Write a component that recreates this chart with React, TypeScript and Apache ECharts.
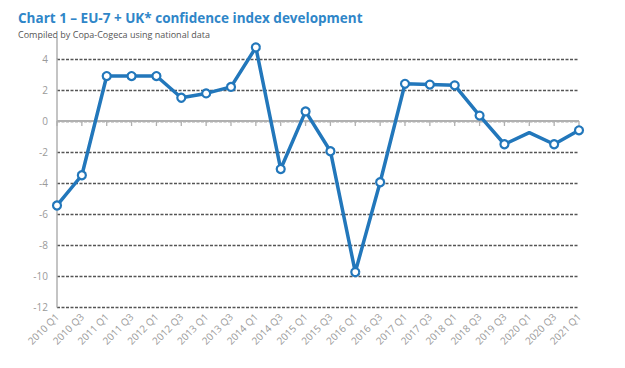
import React, { useEffect, useRef } from "react";
import * as echarts from "echarts";

const categories = ["2010 Q1","2010 Q3","2011 Q1","2011 Q3","2012 Q1","2012 Q3","2013 Q1","2013 Q3","2014 Q1","2014 Q3","2015 Q1","2015 Q3","2016 Q1","2016 Q3","2017 Q1","2017 Q3","2018 Q1","2018 Q3","2019 Q3","2020 Q1","2020 Q3","2021 Q1"];
const confidence = [-5.45,-3.5,2.9,2.9,2.9,1.5,1.78,2.2,4.75,-3.1,0.62,-1.95,-9.75,-3.95,2.4,2.35,2.3,0.35,-1.5,-0.75,-1.5,-0.6];
const noMarker = ["2020 Q1"];

const TITLE = "Chart 1 – EU-7 + UK* confidence index development";
const SUBTITLE = "Compiled by Copa-Cogeca using national data";

export default function App() {
  const ref = useRef<HTMLDivElement>(null);
  useEffect(() => {
    const chart = echarts.init(ref.current!, null, { renderer: "svg" });
    const font = "'Open Sans', sans-serif";
    const axisGray = "#b0b0b0";
    const lastIdx = categories.length - 1;
    chart.setOption({
      animation: false,
      backgroundColor: "#ffffff",
      textStyle: { fontFamily: font },
      title: {
        text: TITLE,
        subtext: SUBTITLE,
        left: 10,
        top: 2,
        padding: 0,
        itemGap: 2,
        textStyle: { color: "#2f86c8", fontSize: 13.5, fontWeight: "bold", fontFamily: font, lineHeight: 16 },
        subtextStyle: { color: "#555555", fontSize: 9, fontFamily: font, lineHeight: 12 },
      },
      grid: { left: 49, right: 38, top: 51, bottom: 53 },
      xAxis: {
        type: "category",
        data: categories,
        boundaryGap: false,
        axisLine: { show: false, onZero: false },
        axisTick: { show: false },
        axisLabel: { rotate: 45, color: "#9a9a9a", fontSize: 10, margin: 8, interval: 0 },
      },
      yAxis: {
        type: "value",
        min: -12,
        max: 4,
        interval: 2,
        axisLine: { show: true, lineStyle: { color: axisGray, width: 1.5 } },
        axisTick: { show: false },
        axisLabel: { color: "#9a9a9a", fontSize: 10, margin: 9 },
        splitLine: { show: true, lineStyle: { color: "#555555", type: [3, 1.5], width: 1.3 } },
      },
      graphic: [
        { type: "line", shape: { x1: 49, y1: 30, x2: 49, y2: 51 }, style: { stroke: axisGray, lineWidth: 1.5 } },
      ],
      series: [
        {
          type: "custom",
          silent: true,
          z: 3,
          data: categories.map((c) => [c, 0]),
          renderItem: (params: any, api: any) => {
            const i = api.value(0);
            const p = api.coord([i, 0]);
            const children: any[] = [
              { type: "line", shape: { x1: p[0], y1: p[1], x2: p[0], y2: p[1] + 5 }, style: { stroke: axisGray, lineWidth: 1.3 } },
            ];
            if (i === 0) {
              const q = api.coord([lastIdx, 0]);
              children.push({ type: "line", shape: { x1: p[0], y1: p[1], x2: q[0], y2: q[1] }, style: { stroke: axisGray, lineWidth: 1.8 } });
            }
            return { type: "group", children };
          },
        },
        {
          type: "line",
          data: confidence.map((v, i) =>
            noMarker.includes(categories[i]) ? { value: v, symbol: "none" } : v
          ),
          symbol: "circle",
          symbolSize: 8,
          showAllSymbol: true,
          clip: false,
          lineStyle: { color: "#2277bb", width: 3.5 },
          itemStyle: { color: "#ffffff", borderColor: "#2277bb", borderWidth: 2.2 },
          z: 5,
        },
      ],
    });
    return () => chart.dispose();
  }, []);
  return <div ref={ref} style={{ width: 609, height: 352 }} />;
}
